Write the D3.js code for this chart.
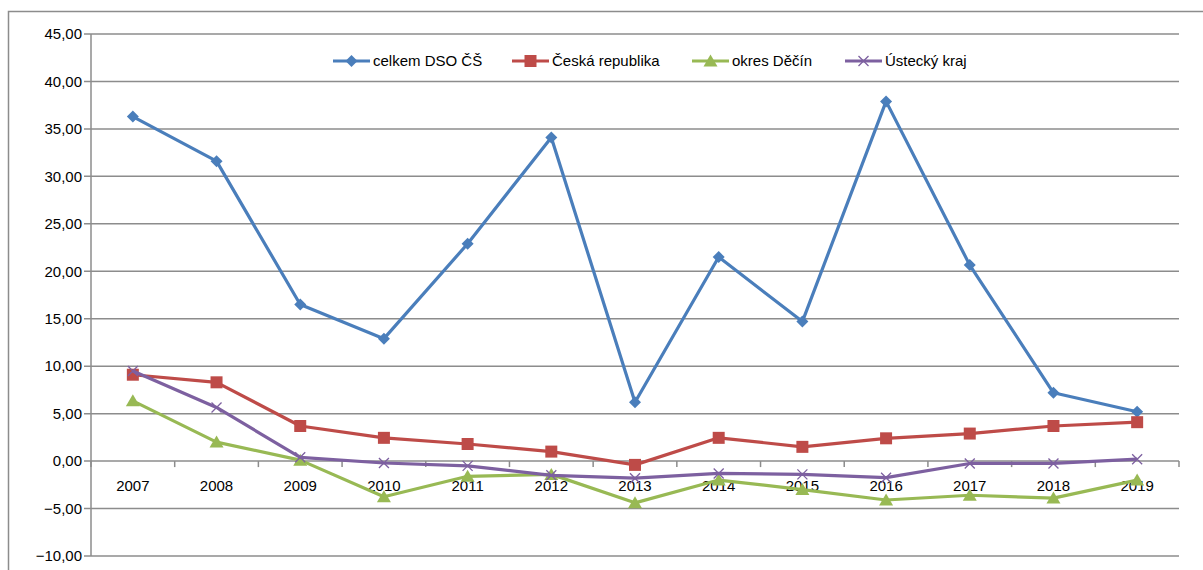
<!DOCTYPE html>
<html>
<head>
<meta charset="utf-8">
<script src="https://cdn.jsdelivr.net/npm/d3@7"></script>
<style>
  body { margin: 0; background: #fff; }
  svg { display: block; font-family: "Liberation Sans", sans-serif; }
  .grid line { stroke: #8c8c8c; stroke-width: 1.5; }
</style>
</head>
<body>
<svg></svg>
<script>
var years = ['2007', '2008', '2009', '2010', '2011', '2012', '2013', '2014', '2015', '2016', '2017', '2018', '2019'];
var celkemDSO = [36.3, 31.6, 16.5, 12.9, 22.9, 34.1, 6.2, 21.5, 14.7, 37.9, 20.65, 7.2, 5.2];
var ceskaRepublika = [9.1, 8.3, 3.7, 2.45, 1.8, 1.0, -0.4, 2.45, 1.5, 2.4, 2.9, 3.7, 4.1];
var okresDecin = [6.35, 2.0, 0.1, -3.75, -1.6, -1.4, -4.4, -2.0, -3.0, -4.1, -3.6, -3.9, -2.0];
var usteckyKraj = [9.5, 5.65, 0.4, -0.2, -0.5, -1.5, -1.8, -1.3, -1.4, -1.75, -0.25, -0.25, 0.2];
var yTicks = [-10, -5, 0, 5, 10, 15, 20, 25, 30, 35, 40, 45];

var series = [
  { name: 'celkem DSO ČŠ', values: celkemDSO, color: '#4a7ebb', marker: 'diamond' },
  { name: 'Česká republika', values: ceskaRepublika, color: '#be4b48', marker: 'square' },
  { name: 'okres Děčín', values: okresDecin, color: '#98b954', marker: 'triangle' },
  { name: 'Ústecký kraj', values: usteckyKraj, color: '#7d60a0', marker: 'cross' }
];

var W = 1203, H = 570;
var L = 91, R = 1179, T = 34, B = 556;

var root = d3.select('svg')
  .attr('width', W)
  .attr('height', H);

// outer chart border
root.append('rect')
  .attr('x', 8.5).attr('y', 11.5)
  .attr('width', 1300).attr('height', 700)
  .attr('fill', 'none')
  .attr('stroke', '#8c8c8c')
  .attr('stroke-width', 1.5);

var x = d3.scaleBand()
  .domain(years)
  .range([L, R]);
var y = d3.scaleLinear()
  .domain([-10, 45])
  .range([B, T]);

var fmt = function (d) { return d3.format('.2f')(d).replace('.', ','); };

var grid = root.append('g').attr('class', 'grid');
grid.selectAll('line')
  .data(yTicks)
  .enter()
  .append('line')
  .attr('x1', L - 7).attr('x2', R)
  .attr('y1', function (d) { return y(d); })
  .attr('y2', function (d) { return y(d); });

// y axis line
root.append('line')
  .attr('x1', L).attr('x2', L)
  .attr('y1', T).attr('y2', B)
  .attr('stroke', '#8c8c8c').attr('stroke-width', 1.5);

root.append('g')
  .selectAll('text')
  .data(yTicks)
  .enter()
  .append('text')
  .attr('x', L - 9)
  .attr('y', function (d) { return y(d); })
  .attr('dy', '0.35em')
  .attr('text-anchor', 'end')
  .attr('font-size', 15)
  .attr('fill', '#000')
  .text(fmt);

// category ticks on the zero line
var bounds = years.map(function (d) { return x(d); }).concat([R]);
root.append('g')
  .selectAll('line')
  .data(bounds)
  .enter()
  .append('line')
  .attr('x1', function (d) { return d; })
  .attr('x2', function (d) { return d; })
  .attr('y1', y(0)).attr('y2', y(0) + 6)
  .attr('stroke', '#8c8c8c').attr('stroke-width', 1.5);

root.append('g')
  .selectAll('text')
  .data(years)
  .enter()
  .append('text')
  .attr('x', function (d) { return x(d) + x.bandwidth() / 2; })
  .attr('y', y(0) + 30)
  .attr('text-anchor', 'middle')
  .attr('font-size', 15)
  .attr('fill', '#000')
  .text(function (d) { return d; });

function markerPath(type) {
  if (type === 'diamond') return 'M0,-6L6,0L0,6L-6,0Z';
  if (type === 'square') return 'M-6,-6H6V6H-6Z';
  if (type === 'triangle') return 'M0,-6.5L7,5.5H-7Z';
  return 'M-5,-5L5,5M-5,5L5,-5';
}

function drawMarker(g, s) {
  var p = g.append('path').attr('d', markerPath(s.marker));
  if (s.marker === 'cross') {
    p.attr('fill', 'none').attr('stroke', s.color).attr('stroke-width', 1.3);
  } else {
    p.attr('fill', s.color);
  }
}

var line = d3.line()
  .x(function (d, i) { return x(years[i]) + x.bandwidth() / 2; })
  .y(function (d) { return y(d); });

series.forEach(function (s) {
  var g = root.append('g');
  g.append('path')
    .attr('d', line(s.values))
    .attr('fill', 'none')
    .attr('stroke', s.color)
    .attr('stroke-width', 3.2)
    .attr('stroke-linejoin', 'round');
  s.values.forEach(function (v, i) {
    var m = g.append('g')
      .attr('transform', 'translate(' + (x(years[i]) + x.bandwidth() / 2) + ',' + y(v) + ')');
    drawMarker(m, s);
  });
});

// legend
var legendX = [333, 512, 692, 845];
series.forEach(function (s, i) {
  var g = root.append('g')
    .attr('transform', 'translate(' + legendX[i] + ',61)');
  g.append('line')
    .attr('x1', 0).attr('x2', 37)
    .attr('stroke', s.color).attr('stroke-width', 3.2);
  var m = g.append('g').attr('transform', 'translate(18.5,0)');
  drawMarker(m, s);
  g.append('text')
    .attr('x', 40)
    .attr('dy', '0.35em')
    .attr('font-size', 15)
    .attr('fill', '#000')
    .text(s.name);
});
</script>
</body>
</html>
